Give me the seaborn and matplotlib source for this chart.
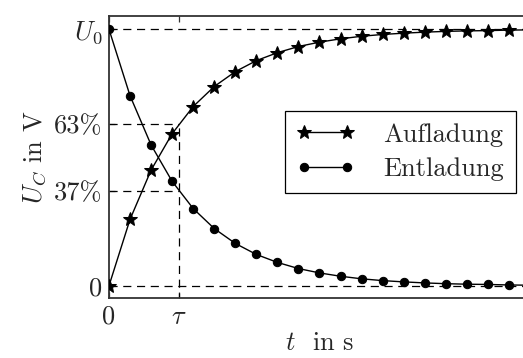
import matplotlib
matplotlib.use("Agg")
import matplotlib.pyplot as plt
import pandas as pd
import seaborn as sns

# time in units of the time constant tau
t = [0.0, 0.3, 0.6, 0.9, 1.2, 1.5, 1.8, 2.1, 2.4, 2.7, 3.0,
     3.3, 3.6, 3.9, 4.2, 4.5, 4.8, 5.1, 5.4, 5.7, 6.0]
# capacitor voltage as a fraction of U0
aufladung = [0.000, 0.259, 0.451, 0.593, 0.699, 0.777, 0.835, 0.878, 0.909, 0.933, 0.950,
             0.963, 0.973, 0.980, 0.985, 0.989, 0.992, 0.994, 0.995, 0.997, 0.998]
entladung = [1.000, 0.741, 0.549, 0.407, 0.301, 0.223, 0.165, 0.122, 0.091, 0.067, 0.050,
             0.037, 0.027, 0.020, 0.015, 0.011, 0.008, 0.006, 0.005, 0.003, 0.002]

tau = 1.0
levels = [0.0, 0.37, 0.63, 1.0]
level_labels = ["0", "37%", "63%", r"$U_0$"]
x_ticks = [0.0, tau]
x_tick_labels = ["0", r"$\tau$"]

FS = 19
sns.set_theme(style="ticks")
plt.rcParams.update({
    "font.family": "serif",
    "font.serif": ["cmr10", "DejaVu Serif"],
    "mathtext.fontset": "cm",
    "axes.formatter.use_mathtext": True,
    "axes.unicode_minus": False,
    "font.size": FS,
    "xtick.labelsize": FS,
    "ytick.labelsize": FS,
    "axes.labelsize": FS,
    "legend.fontsize": FS,
})

df = pd.DataFrame({"t": t, "Aufladung": aufladung, "Entladung": entladung})

fig = plt.figure(figsize=(5.23, 3.58), dpi=100)
ax = fig.add_axes([109 / 523, 1 - 298.3 / 358, 421 / 523, (298.3 - 16) / 358])

dash_kw = dict(color="black", lw=0.9, dashes=(6.5, 4.5), zorder=1)
ax.axhline(1.0, **dash_kw)
ax.axhline(0.0, **dash_kw)
ax.plot([0, tau], [0.63, 0.63], **dash_kw)
ax.plot([0, tau], [0.37, 0.37], **dash_kw)
ax.plot([tau, tau], [-0.06, 0.63], **dash_kw)

sns.lineplot(data=df, x="t", y="Aufladung", ax=ax, color="black", lw=1.0,
             marker="*", markersize=10.5, markeredgecolor="black",
             label="Aufladung", zorder=3)
sns.lineplot(data=df, x="t", y="Entladung", ax=ax, color="black", lw=1.0,
             marker="o", markersize=6.0, markeredgecolor="black",
             label="Entladung", zorder=3)

ax.set_xlim(0, 6.0)
ax.set_ylim(-0.049, 1.052)
ax.set_xticks(x_ticks)
ax.set_xticklabels(x_tick_labels)
ax.set_yticks(levels)
ax.set_yticklabels(level_labels)
ax.tick_params(direction="in", length=4, width=0.9, color="#333333",
               top=True, pad=5)

for side in ["left", "bottom", "top", "right"]:
    ax.spines[side].set_color("#333333")
    ax.spines[side].set_linewidth(1.3)

ax.set_xlabel(r"$t$  in s", labelpad=2)
ax.set_ylabel(r"$U_C$ in V", labelpad=4)

leg = ax.legend(loc="upper right", bbox_to_anchor=(0.967, 0.6635),
                borderaxespad=0, numpoints=2, fancybox=False,
                edgecolor="black", framealpha=1, handlelength=2.2,
                handletextpad=1.1, borderpad=0.45, labelspacing=0.4)
leg.get_frame().set_linewidth(0.9)

fig.savefig("out.png", dpi=100)
